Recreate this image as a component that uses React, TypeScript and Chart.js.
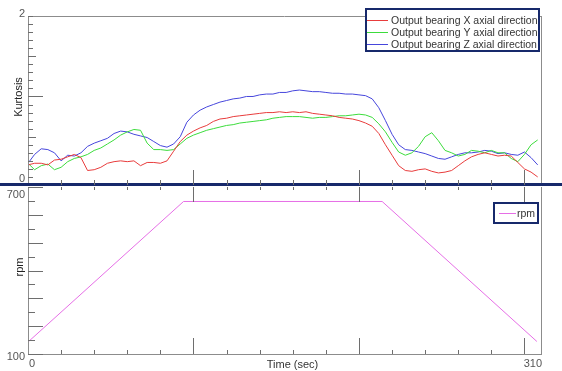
import React, { useEffect, useRef } from "react";
import { Chart, registerables } from "chart.js";
Chart.register(...registerables);

const timeSec = [0, 4, 8, 12, 16, 20, 24, 28, 32, 36, 40, 44, 48, 52, 56, 60, 64, 68, 72, 76, 80, 84, 88, 92, 96, 100, 104, 108, 112, 116, 120, 124, 128, 132, 136, 140, 144, 148, 152, 156, 160, 164, 168, 172, 176, 180, 184, 188, 192, 196, 200, 204, 208, 212, 216, 220, 224, 228, 232, 236, 240, 244, 248, 252, 256, 260, 264, 268, 272, 276, 280, 284, 288, 292, 296, 300, 304, 308];

const kurtosisX = [0.15, 0.17, 0.17, 0.15, 0.21, 0.22, 0.25, 0.28, 0.24, 0.08,
  0.09, 0.12, 0.17, 0.19, 0.20, 0.19, 0.20, 0.14, 0.18, 0.18,
  0.17, 0.20, 0.32, 0.44, 0.52, 0.57, 0.61, 0.64, 0.69, 0.72,
  0.73, 0.75, 0.76, 0.77, 0.78, 0.79, 0.80, 0.80, 0.81, 0.80,
  0.81, 0.80, 0.81, 0.79, 0.78, 0.77, 0.76, 0.74, 0.73, 0.72,
  0.70, 0.67, 0.63, 0.54, 0.40, 0.27, 0.14, 0.08, 0.07, 0.09,
  0.10, 0.07, 0.05, 0.06, 0.08, 0.14, 0.20, 0.25, 0.28, 0.30,
  0.28, 0.26, 0.27, 0.26, 0.18, 0.10, 0.06, 0.00];

const kurtosisY = [0.17, 0.09, 0.14, 0.16, 0.09, 0.12, 0.19, 0.23, 0.25, 0.28,
  0.33, 0.36, 0.41, 0.46, 0.52, 0.56, 0.59, 0.58, 0.42, 0.34,
  0.34, 0.33, 0.34, 0.41, 0.48, 0.52, 0.55, 0.58, 0.60, 0.62,
  0.64, 0.65, 0.67, 0.68, 0.69, 0.70, 0.71, 0.73, 0.74, 0.75,
  0.75, 0.75, 0.74, 0.73, 0.74, 0.74, 0.75, 0.76, 0.76, 0.77,
  0.78, 0.77, 0.74, 0.66, 0.56, 0.43, 0.31, 0.27, 0.30, 0.38,
  0.50, 0.55, 0.45, 0.33, 0.30, 0.26, 0.28, 0.33, 0.32, 0.30,
  0.33, 0.30, 0.30, 0.23, 0.19, 0.28, 0.40, 0.46];

const kurtosisZ = [0.17, 0.28, 0.35, 0.34, 0.30, 0.20, 0.27, 0.26, 0.30, 0.38,
  0.42, 0.45, 0.48, 0.54, 0.57, 0.56, 0.53, 0.51, 0.49, 0.44,
  0.39, 0.37, 0.41, 0.50, 0.68, 0.77, 0.83, 0.87, 0.90, 0.93,
  0.95, 0.97, 0.98, 1.00, 1.00, 1.02, 1.03, 1.03, 1.05, 1.05,
  1.07, 1.08, 1.07, 1.06, 1.06, 1.05, 1.04, 1.04, 1.03, 1.03,
  1.02, 1.01, 0.97, 0.86, 0.70, 0.53, 0.40, 0.34, 0.33, 0.31,
  0.29, 0.26, 0.23, 0.22, 0.25, 0.28, 0.30, 0.30, 0.31, 0.33,
  0.32, 0.29, 0.30, 0.28, 0.27, 0.31, 0.24, 0.15];

const seriesNames = [
  "Output bearing X axial direction",
  "Output bearing Y axial direction",
  "Output bearing Z axial direction",
];
const seriesColors = ["#e83c3c", "#3cdc3c", "#4646dc"];

const rpmTime = [0, 94, 214, 307.5];
const rpmValue = [143, 648, 648, 145];
const rpmName = "rpm";
const rpmColor = "#e66ee6";

const kurtosisTickLabels = [2, 0];
const rpmTickLabels = [700, 100];
const timeTickLabels = [0, 310];

const FONT = "Arial, 'Liberation Sans', sans-serif";
const FRAME = "#8c8c8c";
const TICK = "#6e6e6e";
const NAVY = "#17296b";

function line(ctx: CanvasRenderingContext2D, x1: number, y1: number, x2: number, y2: number) {
  ctx.beginPath();
  ctx.moveTo(x1, y1);
  ctx.lineTo(x2, y2);
  ctx.stroke();
}

function drawLegend(ctx: CanvasRenderingContext2D, chart: any, bx: number, by: number, bw: number, bh: number, rowY: number[], lineX1: number, lineX2: number, textX: number) {
  ctx.fillStyle = "#ffffff";
  ctx.fillRect(bx, by, bw, bh);
  ctx.strokeStyle = NAVY;
  ctx.lineWidth = 2;
  ctx.strokeRect(bx, by, bw, bh);
  ctx.lineWidth = 1;
  ctx.font = `10.5px ${FONT}`;
  ctx.textAlign = "left";
  ctx.textBaseline = "middle";
  chart.data.datasets.forEach((ds: any, i: number) => {
    const yy = rowY[i];
    ctx.strokeStyle = ds.borderColor;
    line(ctx, lineX1, yy + 0.5, lineX2, yy + 0.5);
    ctx.fillStyle = "#333333";
    ctx.fillText(ds.label, textX, yy + 1);
  });
}

const topDeco = {
  id: "topDeco",
  afterDraw(chart: any) {
    const { ctx, chartArea: a, scales } = chart;
    const xs = scales.x, ys = scales.y;
    ctx.save();
    ctx.lineWidth = 1;
    ctx.strokeStyle = FRAME;
    line(ctx, a.left + 0.5, a.top, a.left + 0.5, a.bottom);
    line(ctx, a.left, a.top + 0.5, a.right, a.top + 0.5);
    line(ctx, a.right + 0.5, a.top, a.right + 0.5, a.bottom);
    // separator
    ctx.fillStyle = NAVY;
    ctx.fillRect(0, a.bottom - 2, chart.width, 3);
    // y ticks
    ctx.strokeStyle = TICK;
    for (let i = 0; i <= 20; i++) {
      const v = i / 10;
      const py = Math.round(ys.getPixelForValue(v)) + 0.5;
      const len = i === 10 ? 15 : i === 5 || i === 15 ? 8 : 5;
      line(ctx, a.left, py, a.left + len, py);
    }
    // x ticks (pointing up from bottom)
    for (let t = 20; t <= 300; t += 20) {
      const px = Math.round(xs.getPixelForValue(t)) + 0.5;
      const len = t % 100 === 0 ? 15 : 5;
      line(ctx, px, a.bottom, px, a.bottom - len);
    }
    // tick labels
    ctx.fillStyle = "#555555";
    ctx.font = `11px ${FONT}`;
    ctx.textAlign = "right";
    ctx.textBaseline = "middle";
    kurtosisTickLabels.forEach((v) => {
      const py = ys.getPixelForValue(v) + (v === 0 ? 2 : -2);
      ctx.fillText(String(v), a.left - 3, py);
    });
    // axis title
    ctx.save();
    ctx.translate(19, 97);
    ctx.rotate(-Math.PI / 2);
    ctx.fillStyle = "#222222";
    ctx.textAlign = "center";
    ctx.font = `11px ${FONT}`;
    ctx.fillText("Kurtosis", 0, 0);
    ctx.restore();
    drawLegend(ctx, chart, 366, 9, 173, 42, [20, 32, 44], 367, 388, 391);
    ctx.restore();
  },
};

const bottomDeco = {
  id: "bottomDeco",
  afterDraw(chart: any) {
    const { ctx, chartArea: a, scales } = chart;
    const xs = scales.x, ys = scales.y;
    ctx.save();
    ctx.lineWidth = 1;
    ctx.strokeStyle = FRAME;
    line(ctx, a.left + 0.5, a.top, a.left + 0.5, a.bottom);
    line(ctx, a.left, a.bottom + 0.5, a.right + 1, a.bottom + 0.5);
    line(ctx, a.right + 0.5, a.top, a.right + 0.5, a.bottom);
    ctx.strokeStyle = TICK;
    for (let v = 100; v <= 700; v += 50) {
      const py = Math.round(ys.getPixelForValue(v)) + 0.5;
      const len = v % 100 === 0 ? 15 : 7;
      line(ctx, a.left, py, a.left + len, py);
    }
    for (let t = 20; t <= 300; t += 20) {
      const px = Math.round(xs.getPixelForValue(t)) + 0.5;
      const major = t % 100 === 0;
      line(ctx, px, a.top, px, a.top + (major ? 15 : 3));
      line(ctx, px, a.bottom, px, a.bottom - (major ? 16 : 4));
    }
    ctx.fillStyle = "#555555";
    ctx.font = `11px ${FONT}`;
    ctx.textAlign = "right";
    ctx.textBaseline = "middle";
    rpmTickLabels.forEach((v) => {
      const py = ys.getPixelForValue(v) + (v === 700 ? 8 : 3);
      ctx.fillText(String(v), a.left - 3, py);
    });
    timeTickLabels.forEach((t, i) => {
      const px = xs.getPixelForValue(t);
      ctx.textAlign = i === 0 ? "left" : "right";
      ctx.fillText(String(t), i === 0 ? px + 1 : px + 1, a.bottom + 10);
    });
    ctx.fillStyle = "#333333";
    ctx.textAlign = "center";
    ctx.fillText("Time (sec)", (a.left + a.right) / 2 + 8, a.bottom + 11);
    ctx.save();
    ctx.translate(20, 81);
    ctx.rotate(-Math.PI / 2);
    ctx.fillStyle = "#222222";
    ctx.textAlign = "center";
    ctx.fillText("rpm", 0, 0);
    ctx.restore();
    drawLegend(ctx, chart, 494, 17, 44, 20, [27], 499, 516, 517);
    ctx.restore();
  },
};

export default function App() {
  const topRef = useRef<HTMLCanvasElement>(null);
  const botRef = useRef<HTMLCanvasElement>(null);

  useEffect(() => {
    const top = new Chart(topRef.current!, {
      type: "line",
      data: {
        datasets: [kurtosisX, kurtosisY, kurtosisZ].map((arr, i) => ({
          label: seriesNames[i],
          data: timeSec.map((t, j) => ({ x: t, y: arr[j] })),
          borderColor: seriesColors[i],
          borderWidth: 1,
          pointRadius: 0,
          fill: false,
          tension: 0,
        })),
      },
      options: {
        animation: false,
        responsive: false,
        devicePixelRatio: 1,
        layout: { padding: { left: 28, right: 21, top: 16, bottom: 1 } },
        plugins: { legend: { display: false }, tooltip: { enabled: false } },
        scales: {
          x: { type: "linear", min: 0, max: 310, display: false },
          y: { type: "linear", min: -0.1, max: 2, display: false },
        },
      },
      plugins: [topDeco],
    });
    const bot = new Chart(botRef.current!, {
      type: "line",
      data: {
        datasets: [
          {
            label: rpmName,
            data: rpmTime.map((t, j) => ({ x: t, y: rpmValue[j] })),
            borderColor: rpmColor,
            borderWidth: 1,
            pointRadius: 0,
            fill: false,
            tension: 0,
          },
        ],
      },
      options: {
        animation: false,
        responsive: false,
        devicePixelRatio: 1,
        layout: { padding: { left: 28, right: 21, top: 1, bottom: 17 } },
        plugins: { legend: { display: false }, tooltip: { enabled: false } },
        scales: {
          x: { type: "linear", min: 0, max: 310, display: false },
          y: { type: "linear", min: 100, max: 700, display: false },
        },
      },
      plugins: [bottomDeco],
    });
    return () => {
      top.destroy();
      bot.destroy();
    };
  }, []);

  return (
    <div style={{ position: "fixed", left: 0, top: 0, width: 562, height: 371, background: "#fff", overflow: "hidden" }}>
      <canvas ref={topRef} width={562} height={186} style={{ position: "absolute", left: 0, top: 0, width: 562, height: 186 }} />
      <canvas ref={botRef} width={562} height={185} style={{ position: "absolute", left: 0, top: 186, width: 562, height: 185 }} />
    </div>
  );
}
